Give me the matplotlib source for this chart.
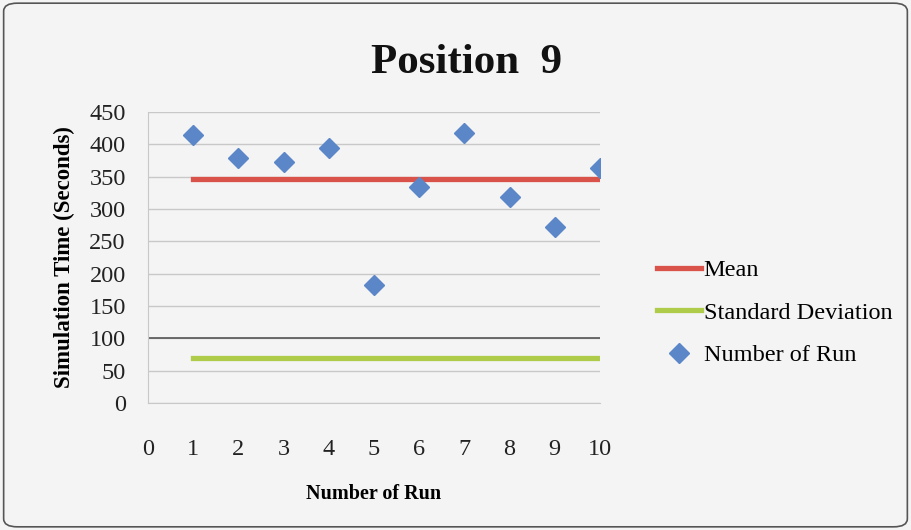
import matplotlib.pyplot as plt
from matplotlib.patches import FancyBboxPatch

plt.rcParams["font.family"] = ["Liberation Serif", "DejaVu Serif"]

runs = [1, 2, 3, 4, 5, 6, 7, 8, 9, 10]
sim_time = [414, 379, 373, 394, 182, 334, 417, 318, 272, 364]
mean_value = [346] * len(runs)
std_value = [69] * len(runs)

bg = "#f4f4f4"
fig = plt.figure(figsize=(9.11, 5.3), dpi=100, facecolor=bg)
fig.patches.append(
    FancyBboxPatch(
        (0.004, 0.006), 0.992, 0.988,
        boxstyle="round,pad=0,rounding_size=0.015",
        transform=fig.transFigure, facecolor=bg, edgecolor="#555555",
        linewidth=1.2, zorder=-1,
    )
)

ax = fig.add_axes([0.1625, 0.2396, 0.4961, 0.5491])
ax.set_facecolor(bg)

ax.plot(runs, mean_value, color="#d9534a", linewidth=3.8, label="Mean", zorder=3)
ax.plot(runs, std_value, color="#aecb4a", linewidth=3.8,
        label="Standard Deviation", zorder=3)
ax.plot(runs, sim_time, linestyle="none", marker="D", markersize=10,
        color="#5b87c8", label="Number of Run", zorder=4)

ax.set_xlim(0, 10)
ax.set_ylim(0, 450)
ax.set_xticks(range(0, 11))
ax.set_yticks(range(0, 451, 50))
ax.grid(axis="y", color="#c8c8c8", linewidth=1.0)
ax.axhline(100, color="#555555", linewidth=1.2, zorder=2)
ax.set_axisbelow(True)

for side in ("top", "right"):
    ax.spines[side].set_visible(False)
ax.spines["left"].set_color("#c8c8c8")
ax.spines["bottom"].set_color("#c8c8c8")
ax.tick_params(length=0, labelsize=17.5, colors="#222222")
ax.tick_params(axis="x", pad=26)
ax.tick_params(axis="y", pad=16)

ax.set_title("Position  9", fontsize=31, fontweight="bold", pad=28,
             x=0.705, color="#111111")
ax.set_xlabel("Number of Run", fontsize=14.5, fontweight="bold", labelpad=17)
ax.set_ylabel("Simulation Time (Seconds)", fontsize=16.5, fontweight="bold",
              labelpad=10)

ax.legend(loc="center left", bbox_to_anchor=(1.1, 0.31), frameon=False,
          fontsize=17.5, handlelength=1.8, handletextpad=0.1,
          labelspacing=0.85, borderpad=0)

fig.savefig("out.png", dpi=100, facecolor=bg)
